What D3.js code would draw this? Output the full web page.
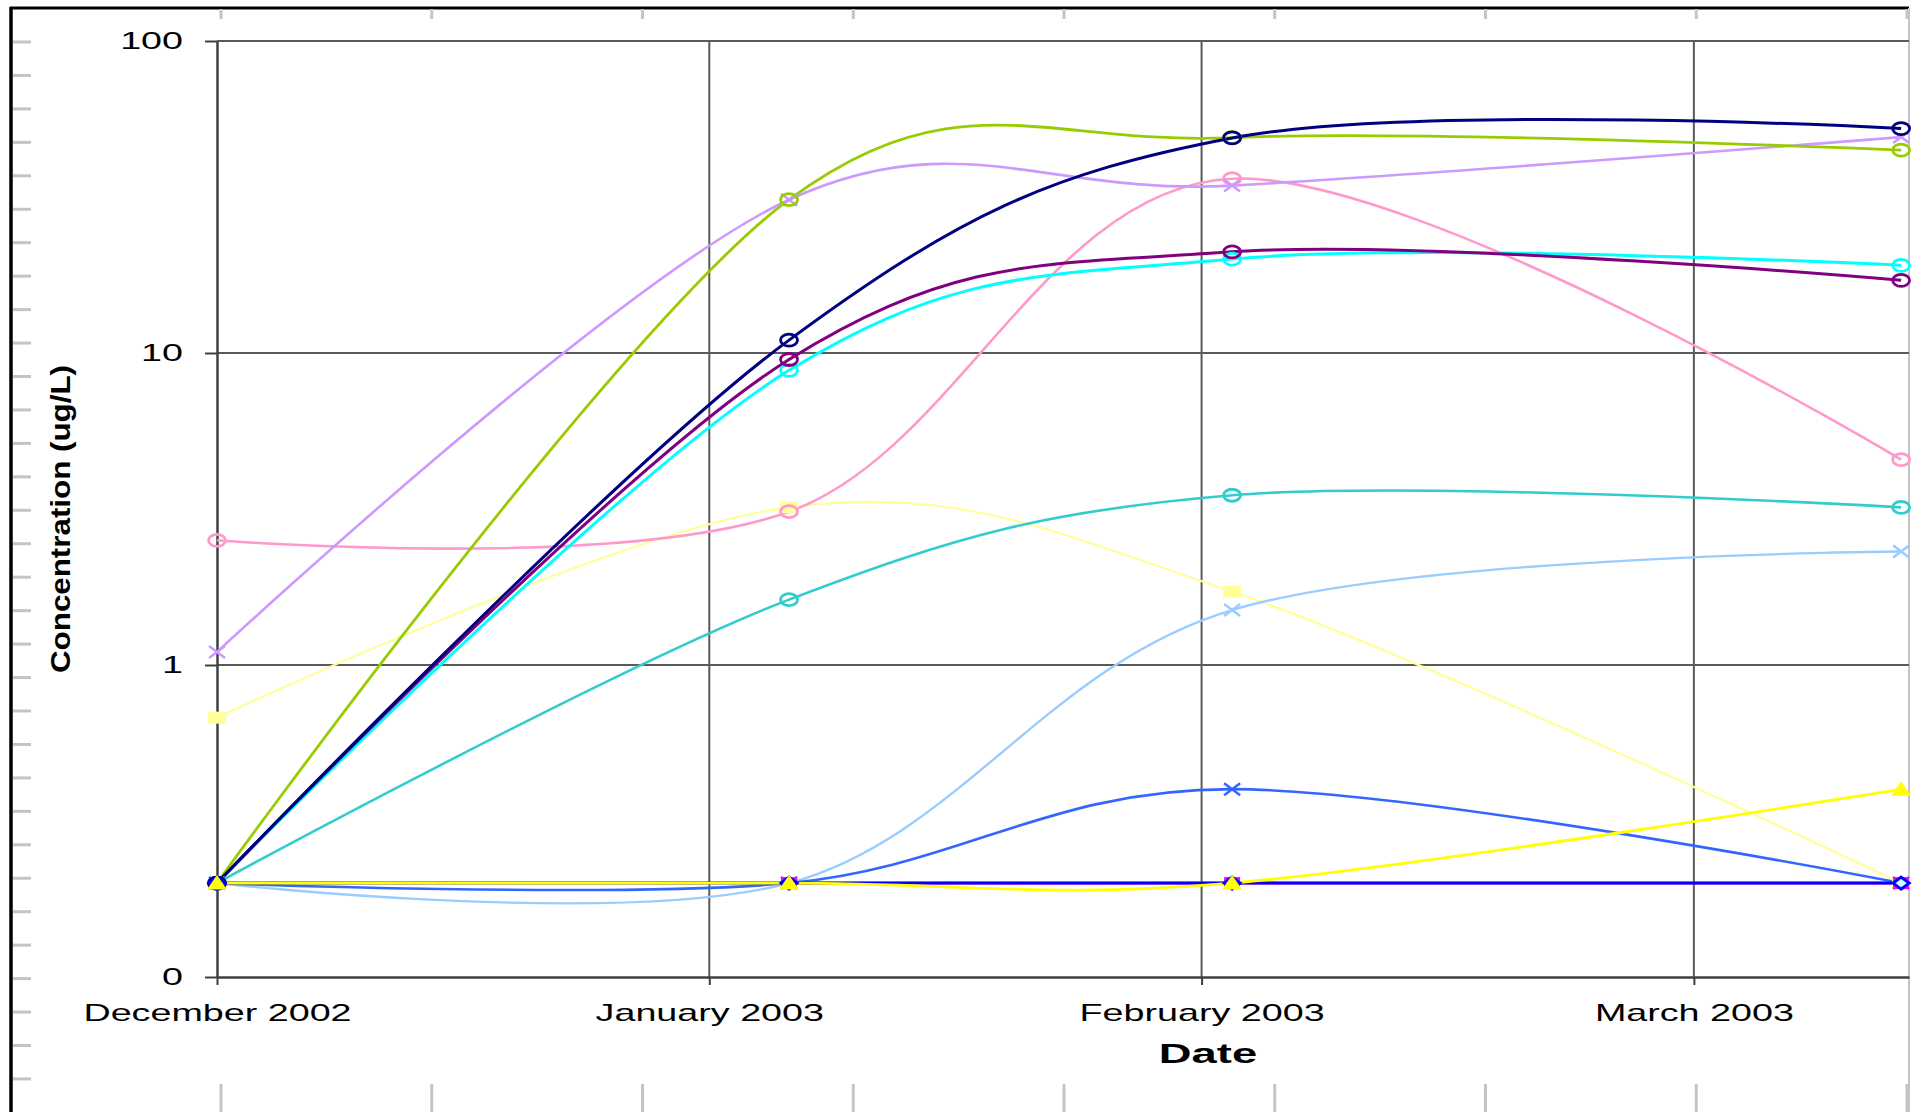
<!DOCTYPE html>
<html><head><meta charset="utf-8">
<script src="https://cdn.jsdelivr.net/npm/d3@7"></script>
<style>html,body{margin:0;padding:0;background:#fff;overflow:hidden}</style>
</head><body><svg id="chart" width="1917" height="1112"></svg>
<script>
// ---------- data ----------
const monthLabels = ["December 2002", "January 2003", "February 2003", "March 2003"];
const monthTicks = [0, 1, 2, 3];                 // months since 1 Dec 2002
const sampleMonths = [0, 1.162, 2.062, 3.421];   // sampling dates (months since 1 Dec 2002)
const yTicks = [0.1, 1, 10, 100];
const yTickLabels = ["0", "1", "10", "100"];

const navyValues      = [0.2, 11.0, 48.9, 52.4];
const greenValues     = [0.2, 31.0, 49.0, 44.7];
const lavenderValues  = [1.10, 31.0, 34.4, 49.2];
const pinkValues      = [2.51, 3.10, 36.2, 4.55];
const purpleValues    = [0.2, 9.53, 21.1, 17.1];
const cyanValues      = [0.2, 8.80, 20.0, 19.1];
const tealValues      = [0.2, 1.62, 3.50, 3.20];
const paleYellowValues= [0.678, 3.20, 1.72, 0.2];
const lightBlueValues = [0.2, 0.2, 1.50, 2.31];
const blueXValues     = [0.2, 0.2, 0.40, 0.2];
const magentaValues   = [null, 0.2, 0.2, 0.2];
const blueDiamondValues = [0.2, 0.2, 0.2, 0.2];
const yellowValues    = [0.2, 0.2, 0.2, 0.40];

// series table (built from the arrays above)
const series = [
  {values: paleYellowValues, color: "#FFFF99", width: 2.2, marker: "square", mfill: "#FFFF99"},
  {values: tealValues,       color: "#33CCCC", width: 2.6, marker: "circle"},
  {values: pinkValues,       color: "#FF99CC", width: 2.6, marker: "circle"},
  {values: lightBlueValues,  color: "#99CCFF", width: 2.4, marker: "x"},
  {values: blueXValues,      color: "#3366FF", width: 2.6, marker: "x"},
  {values: lavenderValues,   color: "#CC99FF", width: 2.6, marker: "x"},
  {values: greenValues,      color: "#99CC00", width: 2.8, marker: "circle"},
  {values: cyanValues,       color: "#00FFFF", width: 3, marker: "circle"},
  {values: purpleValues,     color: "#800080", width: 3, marker: "circle"},
  {values: navyValues,       color: "#000080", width: 3, marker: "circle"},
  {values: magentaValues,    color: "#FF00FF", width: 2.6, marker: "msquare", mfill: "#FF00FF"},
  {values: blueDiamondValues,color: "#0000FF", width: 3, marker: "diamond", mfill: "#CCFFFF"},
  {values: yellowValues,     color: "#FFFF00", width: 2.8, marker: "triangle", mfill: "#FFFF00"}
];

// ---------- layout ----------
const L = 217, R = 1909, T = 41, B = 977;
const STRETCH = 1.57;
const svg = d3.select("#chart");
const x = d3.scaleLinear().domain([0, 3.437]).range([L, R]);
const y = d3.scaleLog().domain([0.1, 100]).range([B, T]);

// decorative frame
const frame = svg.append("g");
frame.append("line").attr("x1", 10).attr("x2", R).attr("y1", 8).attr("y2", 8)
  .attr("stroke", "#000").attr("stroke-width", 3);
frame.append("line").attr("x1", 11).attr("x2", 11).attr("y1", 7).attr("y2", 1112)
  .attr("stroke", "#000").attr("stroke-width", 3.5);
frame.append("line").attr("x1", R).attr("x2", R).attr("y1", 8).attr("y2", 1112)
  .attr("stroke", "#c4c4c4").attr("stroke-width", 2);
frame.selectAll(".lt").data(d3.range(32)).join("line")
  .attr("x1", 13).attr("x2", 31).attr("y1", i => 42 + i * 33.45).attr("y2", i => 42 + i * 33.45)
  .attr("stroke", "#c4c4c4").attr("stroke-width", 3);
frame.selectAll(".tt").data(d3.range(9)).join("line")
  .attr("x1", i => 221 + i * 210.75).attr("x2", i => 221 + i * 210.75)
  .attr("y1", 9).attr("y2", 19).attr("stroke", "#c4c4c4").attr("stroke-width", 3);
frame.selectAll(".bt").data(d3.range(9)).join("line")
  .attr("x1", i => 221 + i * 210.75).attr("x2", i => 221 + i * 210.75)
  .attr("y1", 1084).attr("y2", 1112).attr("stroke", "#c4c4c4").attr("stroke-width", 3);

// gridlines
const grid = svg.append("g");
grid.selectAll(".hg").data(yTicks.slice(1)).join("line")
  .attr("x1", L).attr("x2", R).attr("y1", d => y(d)).attr("y2", d => y(d))
  .attr("stroke", "#5a5a5a").attr("stroke-width", 2);
grid.selectAll(".vg").data(monthTicks.slice(1)).join("line")
  .attr("x1", d => x(d)).attr("x2", d => x(d)).attr("y1", T).attr("y2", B)
  .attr("stroke", "#5a5a5a").attr("stroke-width", 2);

// axes
function styleAxis(g) {
  g.select(".domain").attr("stroke", "#404040").attr("stroke-width", 2.5);
  g.selectAll(".tick line").attr("stroke", "#404040").attr("stroke-width", 2);
  g.selectAll(".tick text")
    .attr("font-family", "'Liberation Sans', Arial, sans-serif")
    .attr("font-size", 24).attr("fill", "#000")
    .each(function () {
      const w = this.getComputedTextLength();
      d3.select(this).attr("textLength", w * STRETCH).attr("lengthAdjust", "spacingAndGlyphs");
    });
}
const yAxis = svg.append("g").attr("transform", `translate(${L},0)`)
  .call(d3.axisLeft(y).tickValues(yTicks).tickFormat((d, i) => yTickLabels[i])
    .tickSizeInner(12).tickSizeOuter(0).tickPadding(22));
styleAxis(yAxis);
const xAxis = svg.append("g").attr("transform", `translate(0,${B})`)
  .call(d3.axisBottom(x).tickValues(monthTicks).tickFormat((d, i) => monthLabels[i])
    .tickSizeInner(8).tickSizeOuter(0).tickPadding(19));
styleAxis(xAxis);

// axis titles
const dateT = svg.append("text").attr("x", 1208).attr("y", 1063).attr("text-anchor", "middle")
  .attr("font-family", "'Liberation Sans', Arial, sans-serif").attr("font-weight", "bold")
  .attr("font-size", 27).text("Date");
dateT.attr("textLength", dateT.node().getComputedTextLength() * 1.68).attr("lengthAdjust", "spacingAndGlyphs");
svg.append("text").attr("transform", "translate(70,519) rotate(-90)").attr("text-anchor", "middle")
  .attr("font-family", "'Liberation Sans', Arial, sans-serif").attr("font-weight", "bold")
  .attr("font-size", 28).attr("textLength", 308).attr("lengthAdjust", "spacingAndGlyphs")
  .text("Concentration (ug/L)");

// lines (Excel-style smoothed lines)
const line = d3.line().defined(d => d.v != null).x(d => x(d.m)).y(d => y(d.v))
  .curve(d3.curveCardinal.tension(0));
const pts = s => s.values.map((v, i) => ({m: sampleMonths[i], v}));
const plot = svg.append("g");
series.forEach(s => {
  plot.append("path").attr("d", line(pts(s))).attr("fill", "none")
    .attr("stroke", s.color).attr("stroke-width", s.width).attr("stroke-linejoin", "round");
});

// markers
const markerPath = {
  x: "M-8,-6L8,6M-8,6L8,-6",
  square: "M-9,-6H9V6H-9Z",
  msquare: "M-8,-6H8V6H-8Z",
  diamond: "M0,-6L8,0L0,6L-8,0Z",
  triangle: "M0,-8L10,6.5H-10Z"
};
series.forEach(s => {
  const g = plot.append("g");
  const data = pts(s).filter(d => d.v != null);
  if (s.marker === "circle") {
    g.selectAll("ellipse").data(data).join("ellipse")
      .attr("cx", d => x(d.m)).attr("cy", d => y(d.v)).attr("rx", 8.5).attr("ry", 6)
      .attr("fill", "none").attr("stroke", s.color).attr("stroke-width", 2.8);
  } else {
    const filled = s.marker !== "x";
    g.selectAll("path").data(data).join("path")
      .attr("transform", d => `translate(${x(d.m)},${y(d.v)})`)
      .attr("d", markerPath[s.marker])
      .attr("fill", filled ? s.mfill : "none")
      .attr("stroke", s.marker === "x" || s.marker === "diamond" ? s.color : "none")
      .attr("stroke-width", s.marker === "diamond" ? 3 : 2.5);
  }
});
</script>
</body></html>
